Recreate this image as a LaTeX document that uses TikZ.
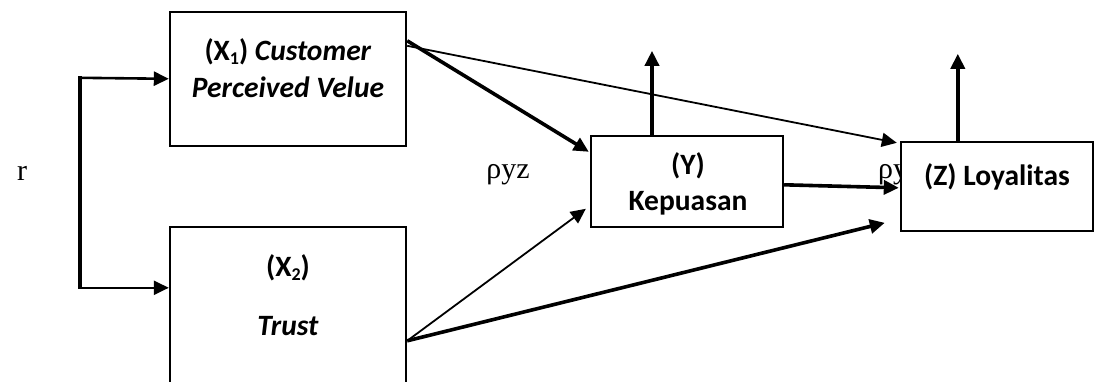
\documentclass[tikz,border=0pt]{standalone}
\usepackage{fontspec}
\setmainfont{Carlito}
\newfontfamily\serifface{Liberation Serif}
\usetikzlibrary{arrows.meta,calc}
\newcommand{\lowidx}[1]{\raisebox{-0.12em}{\fontsize{18}{18}\selectfont #1}}
\tikzset{
  varbox/.style={draw,line width=2.4pt,fill=white,inner sep=0pt,rectangle},
  lbl/.style={font=\fontsize{29.5}{34}\selectfont\bfseries,inner sep=0pt,anchor=center},
  coef/.style={font=\serifface\fontsize{30}{34}\selectfont,inner sep=0pt},
  thin/.style={line width=1.8pt,-{Triangle[length=15pt,width=14pt]}},
  thick/.style={line width=3.6pt,-{Triangle[length=15pt,width=14pt]}},
  corr/.style={line width=2.6pt,-{Triangle[length=15pt,width=14pt]}},
}
\begin{document}
\begin{tikzpicture}[x=1pt,y=-1pt]
\useasboundingbox (0,0) rectangle (1095,381);
\clip (0,0) rectangle (1095,381);

% coefficient labels
\node[coef] (r) at (22,173) {r};
\node[coef] (pyz) at (508,175) {ρyz};
\node[coef,anchor=west] (pzy) at (878,175) {ρy};

% variable boxes
\node[varbox,minimum width=236pt,minimum height=134pt] (x1) at (288,79) {};
\node[varbox,minimum width=236pt,minimum height=173pt] (x2) at (288,313.5) {};
\node[varbox,minimum width=192pt,minimum height=91pt] (y) at (687,181.5) {};
\node[varbox,minimum width=192pt,minimum height=89pt] (z) at (997,186.5) {};

% box texts
\node[lbl] (t1) at (288,52) {(X\lowidx{1}) \textit{Customer}};
\node[lbl] (t2) at (288,87) {\textit{Perceived Velue}};
\node[lbl] (t3) at (288,268) {(X\lowidx{2})};
\node[lbl] (t4) at (288,326) {\textit{Trust}};
\node[lbl] (t5) at (688,166) {(Y)};
\node[lbl] (t6) at (688,203) {Kepuasan};
\node[lbl] (t7) at (997,177) {(Z) Loyalitas};

% loose ends of the residual arrows
\coordinate (yres) at ($(y.north)+(-35,-84)$);
\coordinate (zres) at ($(z.north west)+(58,-87)$);
% corners of the correlation bracket
\coordinate (br1) at ($(x1.north west)+(-89,67)$);
\coordinate (br2) at ($(x2.north west)+(-89,62)$);

% correlation bracket
\draw[line width=4pt] ($(br1)+(0,-1.5)$) -- ($(br2)+(0,1.5)$);
\draw[corr] (br1) -- ($(x1.north west)+(0,68)$);
\draw[corr] (br2) -- ($(x2.north west)+(0,62)$);

% paths
\draw[thick] ($(x1.north east)+(0,30)$) -- ($(y.north west)+(-1,17)$);
\draw[thin]  ($(x1.north east)+(0,35)$) -- ($(z.north west)+(-3,2)$);
\draw[thin]  ($(x2.north east)+(0,115)$) -- ($(y.north west)+(-4,74)$);
\draw[thick] ($(x2.north east)+(0,115)$) -- ($(z.north west)+(-15,82)$);
\draw[thick] ($(y.north east)+(0,50)$) -- ($(z.north west)+(-1,47)$);
\draw[thick] ($(y.north)+(-35,0)$) -- (yres);
\draw[thick] ($(z.north west)+(58,0)$) -- (zres);
\end{tikzpicture}
\end{document}
